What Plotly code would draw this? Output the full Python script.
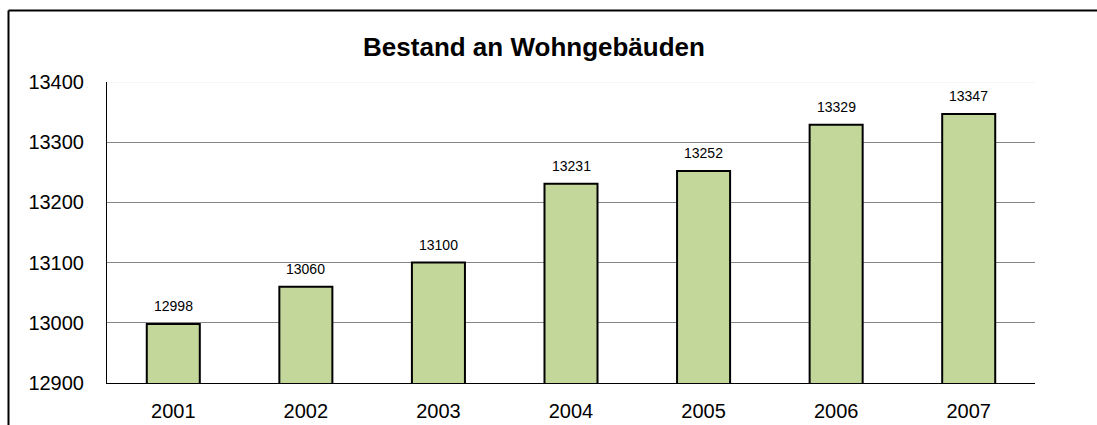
import plotly.graph_objects as go

years = ["2001", "2002", "2003", "2004", "2005", "2006", "2007"]
values = [12998, 13060, 13100, 13231, 13252, 13329, 13347]
y_ticks = [12900, 13000, 13100, 13200, 13300, 13400]

W, H = 1097, 425
L, R, T, B = 107, 62, 82, 42
pw, ph = W - L - R, H - T - B

fig = go.Figure()
fig.add_trace(go.Bar(
    x=years, y=values, width=0.4,
    marker=dict(color="#C4D79B", line=dict(color="#000000", width=2)),
    hoverinfo="x+y",
))

for i, yv in enumerate(values):
    fig.add_annotation(x=i, y=yv, text=str(yv), showarrow=False,
                       yanchor="bottom", yshift=8,
                       font=dict(family="Liberation Sans, Arial", size=14, color="#000"))

def px_to_paper_x(px):
    return (px - L) / pw

def px_to_paper_y(py):
    return 1 - (py - T) / ph

fx0 = px_to_paper_x(8.5)
fy_top = px_to_paper_y(10.5)
fig.add_shape(type="line", xref="paper", yref="paper", x0=fx0, x1=fx0,
              y0=px_to_paper_y(430), y1=fy_top, line=dict(color="#000", width=2))
fig.add_shape(type="line", xref="paper", yref="paper", x0=fx0, x1=px_to_paper_x(1100),
              y0=fy_top, y1=fy_top, line=dict(color="#000", width=2))
# faint top gridline
fig.add_shape(type="line", xref="paper", yref="y", x0=0, x1=1, y0=y_ticks[-1], y1=y_ticks[-1],
              line=dict(color="#EEEEEE", width=1), layer="above")

fig.update_layout(
    width=W, height=H,
    margin=dict(l=L, r=R, t=T, b=B, autoexpand=False),
    paper_bgcolor="#FFFFFF", plot_bgcolor="#FFFFFF",
    showlegend=False,
    font=dict(family="Liberation Sans, Arial", color="#000"),
    title=dict(text="<b>Bestand an Wohngebäuden</b>", x=534 / W, xanchor="center",
               y=1 - 47 / H, yanchor="middle", font=dict(size=26, color="#000")),
)
fig.update_yaxes(range=[y_ticks[0], y_ticks[-1]], tickvals=y_ticks,
                 ticktext=[str(v) for v in y_ticks],
                 showgrid=True, gridcolor="#868686", gridwidth=1,
                 showline=True, linecolor="#000", linewidth=1,
                 ticks="", ticklabelstandoff=18, zeroline=False,
                 tickfont=dict(size=20), automargin=False, fixedrange=True)
fig.update_xaxes(type="category", range=[-0.5, len(years) - 0.5],
                 showline=True, linecolor="#000", linewidth=1, ticks="",
                 ticklabelstandoff=10, tickfont=dict(size=20), automargin=False,
                 showgrid=False, fixedrange=True)

fig.write_html("out.html", config={"displayModeBar": False},
               post_script="document.body.style.margin='0';document.body.style.overflow='hidden';")
